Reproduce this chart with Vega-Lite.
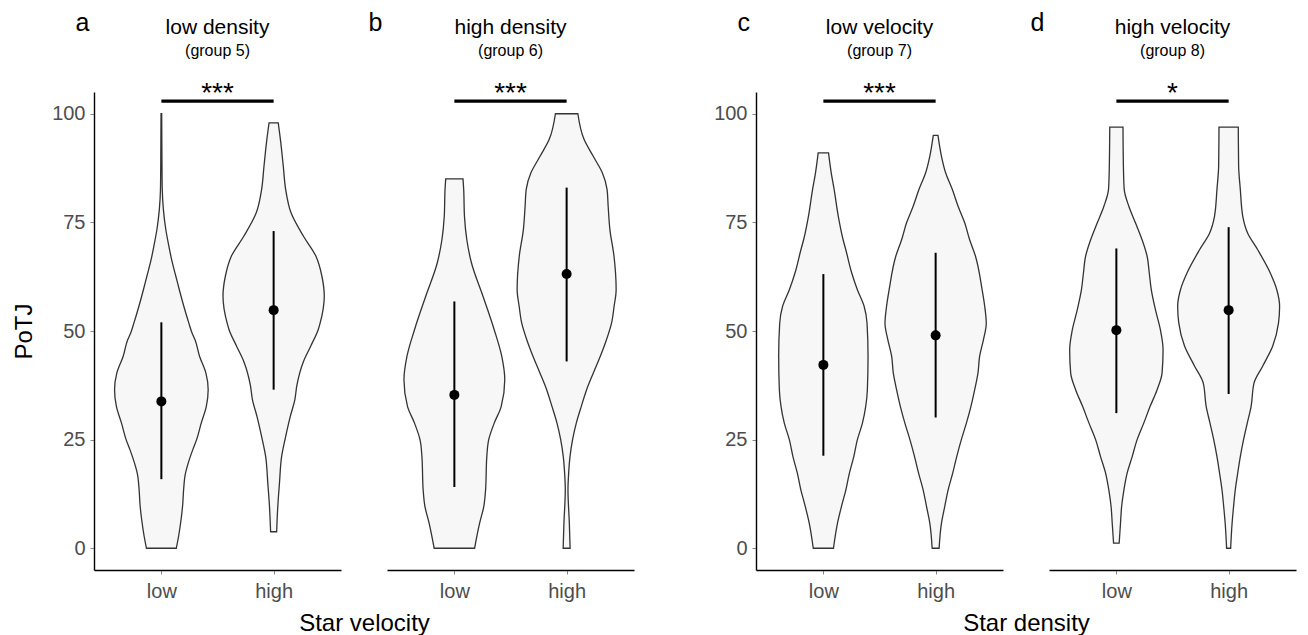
{
  "$schema": "https://vega.github.io/schema/vega-lite/v6.json",
  "background": "white",
  "padding": {"left": 12, "top": 10, "right": 5, "bottom": 5},
  "datasets": {
    "violin": [
      {"panel":"a","cat":"low","y":0,"w":0.133},{"panel":"a","cat":"low","y":3,"w":0.155},{"panel":"a","cat":"low","y":6.5,"w":0.175},{"panel":"a","cat":"low","y":10,"w":0.19},{"panel":"a","cat":"low","y":13.4,"w":0.198},{"panel":"a","cat":"low","y":17.3,"w":0.215},{"panel":"a","cat":"low","y":18.8,"w":0.23},{"panel":"a","cat":"low","y":22.7,"w":0.28},{"panel":"a","cat":"low","y":25,"w":0.314},{"panel":"a","cat":"low","y":28.8,"w":0.355},{"panel":"a","cat":"low","y":32.6,"w":0.4},{"panel":"a","cat":"low","y":36.5,"w":0.417},{"panel":"a","cat":"low","y":40.3,"w":0.397},{"panel":"a","cat":"low","y":44.2,"w":0.34},{"panel":"a","cat":"low","y":48,"w":0.3},{"panel":"a","cat":"low","y":49.5,"w":0.274},{"panel":"a","cat":"low","y":51.8,"w":0.245},{"panel":"a","cat":"low","y":55.7,"w":0.2},{"panel":"a","cat":"low","y":59.5,"w":0.16},{"panel":"a","cat":"low","y":62.6,"w":0.129},{"panel":"a","cat":"low","y":66,"w":0.095},{"panel":"a","cat":"low","y":69.5,"w":0.067},{"panel":"a","cat":"low","y":73.3,"w":0.04},{"panel":"a","cat":"low","y":78,"w":0.018},{"panel":"a","cat":"low","y":82.6,"w":0.008},{"panel":"a","cat":"low","y":90,"w":0.005},{"panel":"a","cat":"low","y":100,"w":0.003},
      {"panel":"a","cat":"high","y":3.8,"w":0.027},{"panel":"a","cat":"high","y":9.6,"w":0.037},{"panel":"a","cat":"high","y":15,"w":0.052},{"panel":"a","cat":"high","y":21.1,"w":0.071},{"panel":"a","cat":"high","y":25.7,"w":0.107},{"panel":"a","cat":"high","y":30.3,"w":0.148},{"panel":"a","cat":"high","y":34.2,"w":0.189},{"panel":"a","cat":"high","y":37.5,"w":0.207},{"panel":"a","cat":"high","y":43,"w":0.266},{"panel":"a","cat":"high","y":46.5,"w":0.33},{"panel":"a","cat":"high","y":50.3,"w":0.397},{"panel":"a","cat":"high","y":51.8,"w":0.414},{"panel":"a","cat":"high","y":58,"w":0.451},{"panel":"a","cat":"high","y":62.6,"w":0.43},{"panel":"a","cat":"high","y":67.2,"w":0.377},{"panel":"a","cat":"high","y":71.8,"w":0.266},{"panel":"a","cat":"high","y":77.2,"w":0.155},{"panel":"a","cat":"high","y":82.6,"w":0.107},{"panel":"a","cat":"high","y":87.9,"w":0.086},{"panel":"a","cat":"high","y":93.3,"w":0.064},{"panel":"a","cat":"high","y":97.9,"w":0.041},
      {"panel":"b","cat":"low","y":0,"w":0.18},{"panel":"b","cat":"low","y":5.8,"w":0.225},{"panel":"b","cat":"low","y":9.6,"w":0.262},{"panel":"b","cat":"low","y":13.4,"w":0.278},{"panel":"b","cat":"low","y":21.1,"w":0.289},{"panel":"b","cat":"low","y":25,"w":0.306},{"panel":"b","cat":"low","y":28.8,"w":0.355},{"panel":"b","cat":"low","y":32.6,"w":0.417},{"panel":"b","cat":"low","y":38.8,"w":0.449},{"panel":"b","cat":"low","y":44.2,"w":0.422},{"panel":"b","cat":"low","y":50.3,"w":0.355},{"panel":"b","cat":"low","y":58,"w":0.255},{"panel":"b","cat":"low","y":65.7,"w":0.152},{"panel":"b","cat":"low","y":71,"w":0.111},{"panel":"b","cat":"low","y":76.4,"w":0.09},{"panel":"b","cat":"low","y":82.6,"w":0.083},{"panel":"b","cat":"low","y":85,"w":0.077},
      {"panel":"b","cat":"high","y":0,"w":0.031},{"panel":"b","cat":"high","y":5.8,"w":0.024},{"panel":"b","cat":"high","y":13.4,"w":0.012},{"panel":"b","cat":"high","y":17.3,"w":0.018},{"panel":"b","cat":"high","y":21.1,"w":0.03},{"panel":"b","cat":"high","y":25,"w":0.053},{"panel":"b","cat":"high","y":28.8,"w":0.086},{"panel":"b","cat":"high","y":32.6,"w":0.13},{"panel":"b","cat":"high","y":36.5,"w":0.178},{"panel":"b","cat":"high","y":40.3,"w":0.237},{"panel":"b","cat":"high","y":44.2,"w":0.3},{"panel":"b","cat":"high","y":48,"w":0.355},{"panel":"b","cat":"high","y":51.8,"w":0.4},{"panel":"b","cat":"high","y":55.7,"w":0.423},{"panel":"b","cat":"high","y":59.5,"w":0.441},{"panel":"b","cat":"high","y":67.2,"w":0.422},{"panel":"b","cat":"high","y":73.4,"w":0.385},{"panel":"b","cat":"high","y":78.7,"w":0.37},{"panel":"b","cat":"high","y":82.6,"w":0.36},{"panel":"b","cat":"high","y":86.4,"w":0.318},{"panel":"b","cat":"high","y":90.2,"w":0.237},{"panel":"b","cat":"high","y":94.1,"w":0.155},{"panel":"b","cat":"high","y":100,"w":0.1},
      {"panel":"c","cat":"low","y":0,"w":0.09},{"panel":"c","cat":"low","y":5.8,"w":0.126},{"panel":"c","cat":"low","y":9.6,"w":0.161},{"panel":"c","cat":"low","y":13.4,"w":0.2},{"panel":"c","cat":"low","y":17.3,"w":0.232},{"panel":"c","cat":"low","y":21.1,"w":0.271},{"panel":"c","cat":"low","y":25,"w":0.303},{"panel":"c","cat":"low","y":28.8,"w":0.348},{"panel":"c","cat":"low","y":32.6,"w":0.377},{"panel":"c","cat":"low","y":36.5,"w":0.392},{"panel":"c","cat":"low","y":44.2,"w":0.398},{"panel":"c","cat":"low","y":51.8,"w":0.389},{"panel":"c","cat":"low","y":55.7,"w":0.363},{"panel":"c","cat":"low","y":59.5,"w":0.303},{"panel":"c","cat":"low","y":63.4,"w":0.252},{"panel":"c","cat":"low","y":68.7,"w":0.2},{"panel":"c","cat":"low","y":71,"w":0.176},{"panel":"c","cat":"low","y":76.4,"w":0.133},{"panel":"c","cat":"low","y":82.6,"w":0.096},{"panel":"c","cat":"low","y":86.4,"w":0.07},{"panel":"c","cat":"low","y":91,"w":0.046},
      {"panel":"c","cat":"high","y":0,"w":0.031},{"panel":"c","cat":"high","y":5.8,"w":0.052},{"panel":"c","cat":"high","y":9.6,"w":0.081},{"panel":"c","cat":"high","y":13.4,"w":0.111},{"panel":"c","cat":"high","y":17.3,"w":0.152},{"panel":"c","cat":"high","y":21.1,"w":0.188},{"panel":"c","cat":"high","y":25,"w":0.229},{"panel":"c","cat":"high","y":28.8,"w":0.274},{"panel":"c","cat":"high","y":32.6,"w":0.314},{"panel":"c","cat":"high","y":36.5,"w":0.348},{"panel":"c","cat":"high","y":40.3,"w":0.377},{"panel":"c","cat":"high","y":44.2,"w":0.392},{"panel":"c","cat":"high","y":48,"w":0.426},{"panel":"c","cat":"high","y":51.8,"w":0.451},{"panel":"c","cat":"high","y":55.7,"w":0.437},{"panel":"c","cat":"high","y":59.5,"w":0.414},{"panel":"c","cat":"high","y":67.2,"w":0.355},{"panel":"c","cat":"high","y":71,"w":0.303},{"panel":"c","cat":"high","y":74.9,"w":0.259},{"panel":"c","cat":"high","y":78.7,"w":0.2},{"panel":"c","cat":"high","y":82.6,"w":0.148},{"panel":"c","cat":"high","y":86.4,"w":0.089},{"panel":"c","cat":"high","y":90.2,"w":0.052},{"panel":"c","cat":"high","y":95,"w":0.021},
      {"panel":"d","cat":"low","y":1.2,"w":0.025},{"panel":"d","cat":"low","y":5.8,"w":0.037},{"panel":"d","cat":"low","y":9.6,"w":0.047},{"panel":"d","cat":"low","y":13.4,"w":0.067},{"panel":"d","cat":"low","y":17.3,"w":0.096},{"panel":"d","cat":"low","y":21.1,"w":0.141},{"panel":"d","cat":"low","y":25,"w":0.185},{"panel":"d","cat":"low","y":28.8,"w":0.244},{"panel":"d","cat":"low","y":32.6,"w":0.3},{"panel":"d","cat":"low","y":36.5,"w":0.363},{"panel":"d","cat":"low","y":40.3,"w":0.407},{"panel":"d","cat":"low","y":45.7,"w":0.416},{"panel":"d","cat":"low","y":50.3,"w":0.392},{"panel":"d","cat":"low","y":54.9,"w":0.348},{"panel":"d","cat":"low","y":59.5,"w":0.311},{"panel":"d","cat":"low","y":63.4,"w":0.293},{"panel":"d","cat":"low","y":67.2,"w":0.274},{"panel":"d","cat":"low","y":71,"w":0.229},{"panel":"d","cat":"low","y":74.9,"w":0.17},{"panel":"d","cat":"low","y":78.7,"w":0.111},{"panel":"d","cat":"low","y":82.6,"w":0.07},{"panel":"d","cat":"low","y":86.4,"w":0.064},{"panel":"d","cat":"low","y":96.9,"w":0.059},
      {"panel":"d","cat":"high","y":0,"w":0.018},{"panel":"d","cat":"high","y":5.8,"w":0.031},{"panel":"d","cat":"high","y":9.6,"w":0.044},{"panel":"d","cat":"high","y":13.4,"w":0.059},{"panel":"d","cat":"high","y":17.3,"w":0.081},{"panel":"d","cat":"high","y":21.1,"w":0.104},{"panel":"d","cat":"high","y":25,"w":0.133},{"panel":"d","cat":"high","y":28.8,"w":0.166},{"panel":"d","cat":"high","y":32.6,"w":0.2},{"panel":"d","cat":"high","y":38,"w":0.226},{"panel":"d","cat":"high","y":41.9,"w":0.303},{"panel":"d","cat":"high","y":46.5,"w":0.392},{"panel":"d","cat":"high","y":51.8,"w":0.444},{"panel":"d","cat":"high","y":55.7,"w":0.454},{"panel":"d","cat":"high","y":59.5,"w":0.429},{"panel":"d","cat":"high","y":63.4,"w":0.37},{"panel":"d","cat":"high","y":68.7,"w":0.259},{"panel":"d","cat":"high","y":72.5,"w":0.17},{"panel":"d","cat":"high","y":76.4,"w":0.126},{"panel":"d","cat":"high","y":82.6,"w":0.104},{"panel":"d","cat":"high","y":88,"w":0.089},{"panel":"d","cat":"high","y":96.9,"w":0.086}
    ],
    "stats": [
      {"panel":"a","cat":"low","med":33.8,"lo":15.9,"hi":52.0},
      {"panel":"a","cat":"high","med":54.8,"lo":36.5,"hi":73.0},
      {"panel":"b","cat":"low","med":35.3,"lo":14.1,"hi":56.8},
      {"panel":"b","cat":"high","med":63.1,"lo":43.0,"hi":83.0},
      {"panel":"c","cat":"low","med":42.2,"lo":21.3,"hi":63.1},
      {"panel":"c","cat":"high","med":49.0,"lo":30.1,"hi":68.0},
      {"panel":"d","cat":"low","med":50.2,"lo":31.1,"hi":69.0},
      {"panel":"d","cat":"high","med":54.8,"lo":35.5,"hi":73.9}
    ],
    "sig": [
      {"panel":"a","y":102.9,"stars":"***"},
      {"panel":"b","y":102.9,"stars":"***"},
      {"panel":"c","y":102.9,"stars":"***"},
      {"panel":"d","y":102.9,"stars":"*"}
    ]
  },
  "config": {
    "view": {"stroke": null},
    "font": "Liberation Sans",
    "axis": {"domainColor": "black", "domainWidth": 1.4, "tickColor": "#888888", "tickWidth": 1, "tickSize": 4, "labelColor": "#4d4d4d", "labelFontSize": 20, "labelFont": "Liberation Sans", "titleFont": "Liberation Sans", "titleFontSize": 24, "titleFontWeight": "normal", "titleColor": "black", "grid": false, "labelOverlap": false, "labelFlush": false},
    "axisX": {"labelPadding": 7, "labelAngle": 0},
    "axisY": {"labelPadding": 5},
    "title": {"font": "Liberation Sans", "fontSize": 21, "fontWeight": "normal", "color": "black", "subtitleFont": "Liberation Sans", "subtitleFontSize": 16, "subtitleColor": "black", "subtitlePadding": 5, "anchor": "middle", "frame": "group", "offset": -49}
  },
  "bounds": "flush",
  "spacing": 46,
  "hconcat": [
    {
      "width": 247, "height": 478,
      "title": {"text": "low density", "subtitle": "(group 5)"},
      "resolve": {"axis": {"y": "independent"}},
      "layer": [
        {"data": {"name": "violin"}, "transform": [{"filter": "datum.panel == 'a'"}, {"calculate": "(datum.cat == 'low' ? 1 : 2) - datum.w", "as": "x1"}, {"calculate": "(datum.cat == 'low' ? 1 : 2) + datum.w", "as": "x2"}],
         "mark": {"type": "area", "orient": "horizontal", "fill": "#f7f7f7", "stroke": "#333333", "strokeWidth": 1.3, "interpolate": "monotone"},
         "encoding": {
           "y": {"field": "y", "type": "quantitative", "scale": {"domain": [-5, 105], "nice": false, "zero": false}, "axis": {"values": [0, 25, 50, 75, 100], "title": "PoTJ", "titleX": -63, "titleY": 239, "titleAngle": 270, "titleBaseline": "alphabetic", "titleAlign": "center"}},
           "x": {"field": "x1", "type": "quantitative", "scale": {"domain": [0.4, 2.6], "nice": false, "zero": false}, "axis": {"values": [1, 2], "labelExpr": "datum.value == 1 ? 'low' : 'high'", "title": "Star velocity", "titleX": 270, "titleY": 60, "titleBaseline": "alphabetic", "titleAlign": "center"}},
           "x2": {"field": "x2"},
           "detail": {"field": "cat"}
         }},
        {"data": {"name": "stats"}, "transform": [{"filter": "datum.panel == 'a'"}, {"calculate": "datum.cat == 'low' ? 1 : 2", "as": "xc"}],
         "mark": {"type": "rule", "color": "black", "strokeWidth": 2},
         "encoding": {"x": {"field": "xc", "type": "quantitative"}, "y": {"field": "lo", "type": "quantitative", "axis": null}, "y2": {"field": "hi"}}},
        {"data": {"name": "stats"}, "transform": [{"filter": "datum.panel == 'a'"}, {"calculate": "datum.cat == 'low' ? 1 : 2", "as": "xc"}],
         "mark": {"type": "point", "shape": "circle", "filled": true, "color": "black", "opacity": 1, "size": 100},
         "encoding": {"x": {"field": "xc", "type": "quantitative"}, "y": {"field": "med", "type": "quantitative", "axis": null}}},
        {"data": {"name": "sig"}, "transform": [{"filter": "datum.panel == 'a'"}],
         "mark": {"type": "rule", "color": "black", "strokeWidth": 3.2},
         "encoding": {"x": {"datum": 1, "type": "quantitative"}, "x2": {"datum": 2}, "y": {"field": "y", "type": "quantitative", "axis": null}}},
        {"data": {"name": "sig"}, "transform": [{"filter": "datum.panel == 'a'"}],
         "mark": {"type": "text", "fontSize": 28, "baseline": "alphabetic", "dy": 1, "clip": false, "color": "black", "font": "Liberation Sans"},
         "encoding": {"x": {"datum": 1.5, "type": "quantitative"}, "y": {"field": "y", "type": "quantitative", "axis": {"orient": "left", "domain": false, "ticks": false, "labels": false, "grid": false, "title": "a", "titleAngle": 0, "titleX": -19, "titleY": -62, "titleBaseline": "alphabetic", "titleAlign": "left", "titleFontSize": 25}}, "text": {"field": "stars"}}}
      ]
    },
    {
      "width": 247, "height": 478,
      "title": {"text": "high density", "subtitle": "(group 6)"},
      "resolve": {"axis": {"y": "independent"}},
      "layer": [
        {"data": {"name": "violin"}, "transform": [{"filter": "datum.panel == 'b'"}, {"calculate": "(datum.cat == 'low' ? 1 : 2) - datum.w", "as": "x1"}, {"calculate": "(datum.cat == 'low' ? 1 : 2) + datum.w", "as": "x2"}],
         "mark": {"type": "area", "orient": "horizontal", "fill": "#f7f7f7", "stroke": "#333333", "strokeWidth": 1.3, "interpolate": "monotone"},
         "encoding": {
           "y": {"field": "y", "type": "quantitative", "scale": {"domain": [-5, 105], "nice": false, "zero": false}, "axis": null},
           "x": {"field": "x1", "type": "quantitative", "scale": {"domain": [0.4, 2.6], "nice": false, "zero": false}, "axis": {"values": [1, 2], "labelExpr": "datum.value == 1 ? 'low' : 'high'", "title": null}},
           "x2": {"field": "x2"},
           "detail": {"field": "cat"}
         }},
        {"data": {"name": "stats"}, "transform": [{"filter": "datum.panel == 'b'"}, {"calculate": "datum.cat == 'low' ? 1 : 2", "as": "xc"}],
         "mark": {"type": "rule", "color": "black", "strokeWidth": 2},
         "encoding": {"x": {"field": "xc", "type": "quantitative"}, "y": {"field": "lo", "type": "quantitative", "axis": null}, "y2": {"field": "hi"}}},
        {"data": {"name": "stats"}, "transform": [{"filter": "datum.panel == 'b'"}, {"calculate": "datum.cat == 'low' ? 1 : 2", "as": "xc"}],
         "mark": {"type": "point", "shape": "circle", "filled": true, "color": "black", "opacity": 1, "size": 100},
         "encoding": {"x": {"field": "xc", "type": "quantitative"}, "y": {"field": "med", "type": "quantitative", "axis": null}}},
        {"data": {"name": "sig"}, "transform": [{"filter": "datum.panel == 'b'"}],
         "mark": {"type": "rule", "color": "black", "strokeWidth": 3.2},
         "encoding": {"x": {"datum": 1, "type": "quantitative"}, "x2": {"datum": 2}, "y": {"field": "y", "type": "quantitative", "axis": null}}},
        {"data": {"name": "sig"}, "transform": [{"filter": "datum.panel == 'b'"}],
         "mark": {"type": "text", "fontSize": 28, "baseline": "alphabetic", "dy": 1, "clip": false, "color": "black", "font": "Liberation Sans"},
         "encoding": {"x": {"datum": 1.5, "type": "quantitative"}, "y": {"field": "y", "type": "quantitative", "axis": {"orient": "left", "domain": false, "ticks": false, "labels": false, "grid": false, "title": "b", "titleAngle": 0, "titleX": -19, "titleY": -62, "titleBaseline": "alphabetic", "titleAlign": "left", "titleFontSize": 25}}, "text": {"field": "stars"}}}
      ]
    },
    {
      "width": 30, "height": 478,
      "data": {"values": []},
      "mark": {"type": "point", "opacity": 0},
      "encoding": {}
    },
    {
      "width": 247, "height": 478,
      "title": {"text": "low velocity", "subtitle": "(group 7)"},
      "resolve": {"axis": {"y": "independent"}},
      "layer": [
        {"data": {"name": "violin"}, "transform": [{"filter": "datum.panel == 'c'"}, {"calculate": "(datum.cat == 'low' ? 1 : 2) - datum.w", "as": "x1"}, {"calculate": "(datum.cat == 'low' ? 1 : 2) + datum.w", "as": "x2"}],
         "mark": {"type": "area", "orient": "horizontal", "fill": "#f7f7f7", "stroke": "#333333", "strokeWidth": 1.3, "interpolate": "monotone"},
         "encoding": {
           "y": {"field": "y", "type": "quantitative", "scale": {"domain": [-5, 105], "nice": false, "zero": false}, "axis": {"values": [0, 25, 50, 75, 100], "title": null}},
           "x": {"field": "x1", "type": "quantitative", "scale": {"domain": [0.4, 2.6], "nice": false, "zero": false}, "axis": {"values": [1, 2], "labelExpr": "datum.value == 1 ? 'low' : 'high'", "title": "Star density", "titleX": 270, "titleY": 60, "titleBaseline": "alphabetic", "titleAlign": "center"}},
           "x2": {"field": "x2"},
           "detail": {"field": "cat"}
         }},
        {"data": {"name": "stats"}, "transform": [{"filter": "datum.panel == 'c'"}, {"calculate": "datum.cat == 'low' ? 1 : 2", "as": "xc"}],
         "mark": {"type": "rule", "color": "black", "strokeWidth": 2},
         "encoding": {"x": {"field": "xc", "type": "quantitative"}, "y": {"field": "lo", "type": "quantitative", "axis": null}, "y2": {"field": "hi"}}},
        {"data": {"name": "stats"}, "transform": [{"filter": "datum.panel == 'c'"}, {"calculate": "datum.cat == 'low' ? 1 : 2", "as": "xc"}],
         "mark": {"type": "point", "shape": "circle", "filled": true, "color": "black", "opacity": 1, "size": 100},
         "encoding": {"x": {"field": "xc", "type": "quantitative"}, "y": {"field": "med", "type": "quantitative", "axis": null}}},
        {"data": {"name": "sig"}, "transform": [{"filter": "datum.panel == 'c'"}],
         "mark": {"type": "rule", "color": "black", "strokeWidth": 3.2},
         "encoding": {"x": {"datum": 1, "type": "quantitative"}, "x2": {"datum": 2}, "y": {"field": "y", "type": "quantitative", "axis": null}}},
        {"data": {"name": "sig"}, "transform": [{"filter": "datum.panel == 'c'"}],
         "mark": {"type": "text", "fontSize": 28, "baseline": "alphabetic", "dy": 1, "clip": false, "color": "black", "font": "Liberation Sans"},
         "encoding": {"x": {"datum": 1.5, "type": "quantitative"}, "y": {"field": "y", "type": "quantitative", "axis": {"orient": "left", "domain": false, "ticks": false, "labels": false, "grid": false, "title": "c", "titleAngle": 0, "titleX": -19, "titleY": -62, "titleBaseline": "alphabetic", "titleAlign": "left", "titleFontSize": 25}}, "text": {"field": "stars"}}}
      ]
    },
    {
      "width": 247, "height": 478,
      "title": {"text": "high velocity", "subtitle": "(group 8)"},
      "resolve": {"axis": {"y": "independent"}},
      "layer": [
        {"data": {"name": "violin"}, "transform": [{"filter": "datum.panel == 'd'"}, {"calculate": "(datum.cat == 'low' ? 1 : 2) - datum.w", "as": "x1"}, {"calculate": "(datum.cat == 'low' ? 1 : 2) + datum.w", "as": "x2"}],
         "mark": {"type": "area", "orient": "horizontal", "fill": "#f7f7f7", "stroke": "#333333", "strokeWidth": 1.3, "interpolate": "monotone"},
         "encoding": {
           "y": {"field": "y", "type": "quantitative", "scale": {"domain": [-5, 105], "nice": false, "zero": false}, "axis": null},
           "x": {"field": "x1", "type": "quantitative", "scale": {"domain": [0.4, 2.6], "nice": false, "zero": false}, "axis": {"values": [1, 2], "labelExpr": "datum.value == 1 ? 'low' : 'high'", "title": null}},
           "x2": {"field": "x2"},
           "detail": {"field": "cat"}
         }},
        {"data": {"name": "stats"}, "transform": [{"filter": "datum.panel == 'd'"}, {"calculate": "datum.cat == 'low' ? 1 : 2", "as": "xc"}],
         "mark": {"type": "rule", "color": "black", "strokeWidth": 2},
         "encoding": {"x": {"field": "xc", "type": "quantitative"}, "y": {"field": "lo", "type": "quantitative", "axis": null}, "y2": {"field": "hi"}}},
        {"data": {"name": "stats"}, "transform": [{"filter": "datum.panel == 'd'"}, {"calculate": "datum.cat == 'low' ? 1 : 2", "as": "xc"}],
         "mark": {"type": "point", "shape": "circle", "filled": true, "color": "black", "opacity": 1, "size": 100},
         "encoding": {"x": {"field": "xc", "type": "quantitative"}, "y": {"field": "med", "type": "quantitative", "axis": null}}},
        {"data": {"name": "sig"}, "transform": [{"filter": "datum.panel == 'd'"}],
         "mark": {"type": "rule", "color": "black", "strokeWidth": 3.2},
         "encoding": {"x": {"datum": 1, "type": "quantitative"}, "x2": {"datum": 2}, "y": {"field": "y", "type": "quantitative", "axis": null}}},
        {"data": {"name": "sig"}, "transform": [{"filter": "datum.panel == 'd'"}],
         "mark": {"type": "text", "fontSize": 28, "baseline": "alphabetic", "dy": 1, "clip": false, "color": "black", "font": "Liberation Sans"},
         "encoding": {"x": {"datum": 1.5, "type": "quantitative"}, "y": {"field": "y", "type": "quantitative", "axis": {"orient": "left", "domain": false, "ticks": false, "labels": false, "grid": false, "title": "d", "titleAngle": 0, "titleX": -19, "titleY": -62, "titleBaseline": "alphabetic", "titleAlign": "left", "titleFontSize": 25}}, "text": {"field": "stars"}}}
      ]
    }
  ]
}
